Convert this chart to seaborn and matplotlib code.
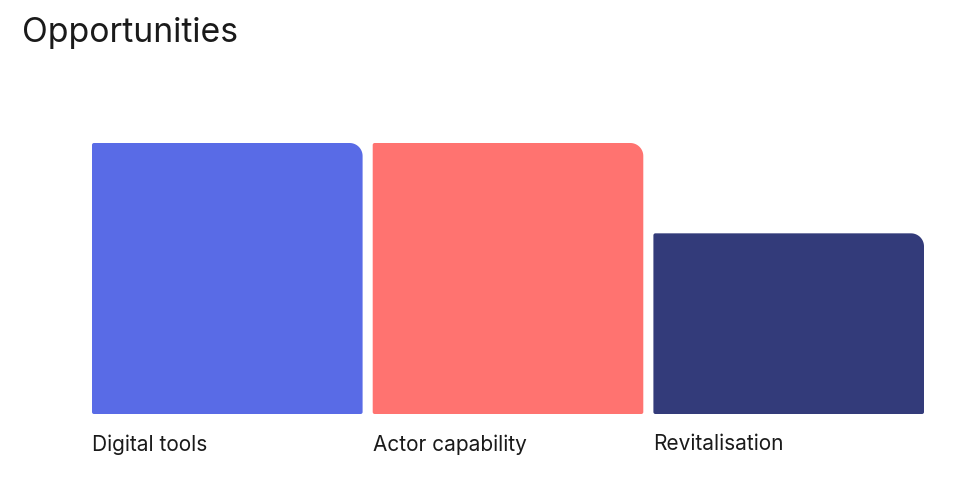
import numpy as np
import pandas as pd
import matplotlib
matplotlib.use("Agg")
from matplotlib import pyplot as plt
from matplotlib.patches import Polygon
import seaborn as sns

# data
categories = ["Digital tools", "Actor capability", "Revitalisation"]
values = [3, 3, 2]
colors = ["#596BE6", "#FF7370", "#333B7A"]

df = pd.DataFrame({"label": categories, "value": values})

sns.set_style("white")
plt.rcParams['font.family'] = ['Inter', 'DejaVu Sans']

fig = plt.figure(figsize=(9.71, 5.04), dpi=100)
ax = fig.add_axes([92/971, 90/504, (924-92)/971, (414-143)/504])

bw = 0.964
sns.barplot(data=df, x="label", y="value", hue="label", palette=colors,
            width=bw, dodge=False, legend=False, ax=ax, saturation=1)
ax.set_xlim(-bw/2, 2 + bw/2)
ax.set_ylim(0, 3)
ax.axis("off")

# px -> data units
fig.canvas.draw()
sx = (ax.transData.transform((1, 0))[0] - ax.transData.transform((0, 0))[0])
sy = (ax.transData.transform((0, 1))[1] - ax.transData.transform((0, 0))[1])


def rounded(x0, y0, w, h, r_tr, r_other):
    # corners: bl, br, tr, tl ; radius in px
    pts = []
    def arc(cx, cy, r, a0, a1):
        t = np.linspace(a0, a1, 20)
        return [(cx + r/sx*np.cos(a), cy + r/sy*np.sin(a)) for a in t]
    x1, y1 = x0 + w, y0 + h
    r = r_other
    pts += arc(x0 + r/sx, y0 + r/sy, r, np.pi, 1.5*np.pi)
    pts += arc(x1 - r/sx, y0 + r/sy, r, 1.5*np.pi, 2*np.pi)
    pts += arc(x1 - r_tr/sx, y1 - r_tr/sy, r_tr, 0, 0.5*np.pi)
    pts += arc(x0 + r/sx, y1 - r/sy, r, 0.5*np.pi, np.pi)
    return pts


for p in list(ax.patches):
    x0, y0 = p.get_x(), p.get_y()
    w, h = p.get_width(), p.get_height()
    fc = p.get_facecolor()
    p.set_visible(False)
    ax.add_patch(Polygon(rounded(x0, y0, w, h, 13, 2), closed=True,
                         facecolor=fc, edgecolor="none"))
    ax.text(x0, -0.225, df["label"][int(round(x0 + w/2))], ha="left", va="top",
            fontsize=15, color="#1a1a1a")

fig.text(22/971, 1 - 33/504, "Opportunities", ha="left", va="center",
         fontsize=24.3, color="#1a1a1a")

plt.savefig("out.png", dpi=100)
